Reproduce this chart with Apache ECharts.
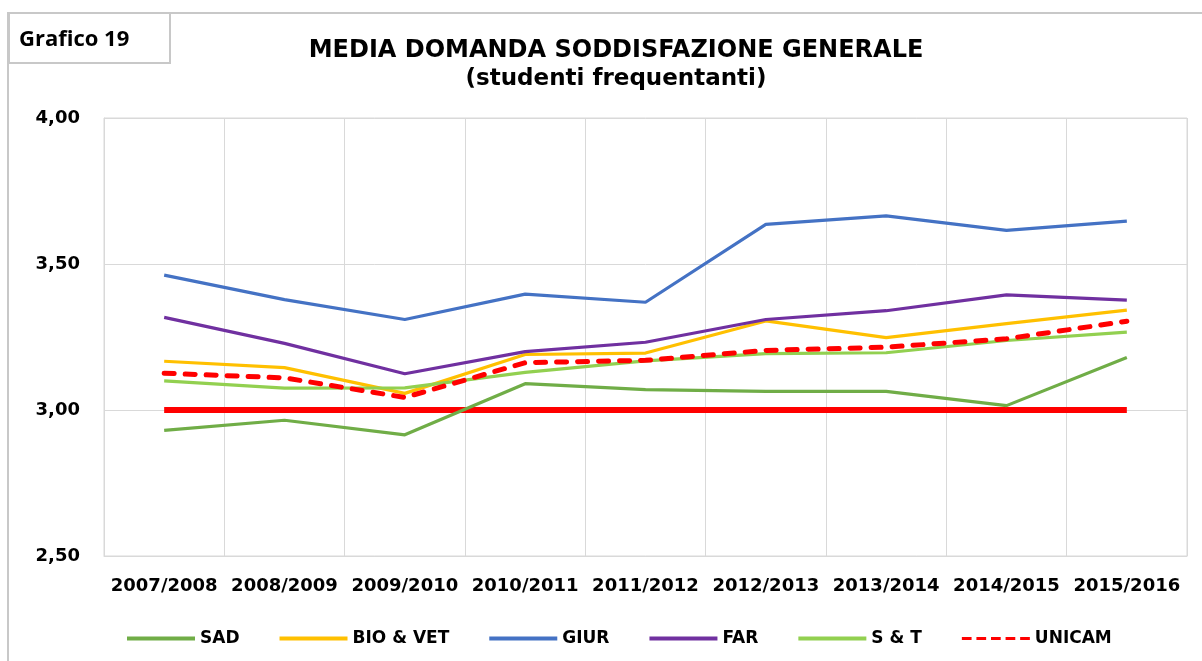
<!DOCTYPE html>
<html>
<head>
<meta charset="utf-8">
<script src="https://cdn.jsdelivr.net/npm/echarts@6/dist/echarts.min.js"></script>
<style>
html,body{margin:0;padding:0;background:#fff;}
#c{width:1202px;height:661px;}
</style>
</head>
<body>
<div id="c"></div>
<script>
const categories = ['2007/2008','2008/2009','2009/2010','2010/2011','2011/2012','2012/2013','2013/2014','2014/2015','2015/2016'];
const SAD    = [2.93, 2.965, 2.915, 3.09, 3.07, 3.064, 3.064, 3.015, 3.18];
const BIOVET = [3.167, 3.145, 3.057, 3.19, 3.195, 3.305, 3.248, 3.296, 3.342];
const GIUR   = [3.462, 3.378, 3.31, 3.397, 3.369, 3.636, 3.665, 3.615, 3.647];
const FAR    = [3.317, 3.228, 3.124, 3.2, 3.232, 3.31, 3.34, 3.394, 3.376];
const ST     = [3.10, 3.075, 3.076, 3.129, 3.168, 3.193, 3.196, 3.238, 3.267];
const UNICAM = [3.126, 3.11, 3.043, 3.162, 3.17, 3.204, 3.215, 3.244, 3.304];
const BASE   = [3, 3, 3, 3, 3, 3, 3, 3, 3];
const yTicks = [2.5, 3.0, 3.5, 4.0];
const legendNames = ['SAD','BIO & VET','GIUR','FAR','S & T','UNICAM'];

const chart = echarts.init(document.getElementById('c'));
const lineS = (name, data, color) => ({
  name, type: 'line', data, symbol: 'none', smooth: false,
  itemStyle: {color},
  lineStyle: {color, width: 3.2}
});
const dashIcon = 'path://M0,0h10v3h-10zM15,0h10v3h-10zM30,0h10v3h-10zM45,0h10v3h-10zM60,0h10v3h-10z';
chart.setOption({
  animation: false,
  title: [
    {text: 'MEDIA DOMANDA SODDISFAZIONE GENERALE', left: 611, top: 34, textAlign: 'center',
     textStyle: {fontFamily: 'DejaVu Sans', fontWeight: 'bold', fontSize: 24, color: '#000'}},
    {text: '(studenti frequentanti)', left: 611, top: 63, textAlign: 'center',
     textStyle: {fontFamily: 'DejaVu Sans', fontWeight: 'bold', fontSize: 23, color: '#000'}}
  ],
  graphic: [
    {type: 'line', shape: {x1: 8, y1: 13, x2: 1202, y2: 13}, style: {stroke: '#c8c8c8', lineWidth: 2}},
    {type: 'line', shape: {x1: 8, y1: 12, x2: 8, y2: 661}, style: {stroke: '#c8c8c8', lineWidth: 2}},
    {type: 'rect', shape: {x: 9, y: 13, width: 161, height: 50}, style: {fill: '#fff', stroke: '#c8c8c8', lineWidth: 2}},
    {type: 'text', left: 19, top: 29, style: {text: 'Grafico 19', fontFamily: 'Open Sans', fontWeight: 'bold', fontSize: 22, fill: '#000'}}
  ],
  legend: {
    left: 122, top: 625, itemWidth: 68, itemHeight: 4, itemGap: 40,
    data: legendNames.map(n => n === 'UNICAM' ? {name: n, icon: dashIcon} : {name: n, icon: 'rect'}),
    textStyle: {fontFamily: 'DejaVu Sans', fontWeight: 'bold', fontSize: 17, color: '#000'}
  },
  grid: {left: 104, right: 15, top: 118, bottom: 105, show: true, borderColor: '#d9d9d9', borderWidth: 1},
  xAxis: {
    type: 'category', data: categories, boundaryGap: true,
    axisLine: {lineStyle: {color: '#d9d9d9'}}, axisTick: {show: false},
    splitLine: {show: true, interval: 0, lineStyle: {color: '#d9d9d9', width: 1}},
    axisLabel: {interval: 0, margin: 21, fontFamily: 'DejaVu Sans', fontWeight: 'bold', fontSize: 18, color: '#000'}
  },
  yAxis: {
    type: 'value', min: yTicks[0], max: yTicks[yTicks.length-1], interval: 0.5,
    axisLine: {show: true, lineStyle: {color: '#d9d9d9'}}, axisTick: {show: false},
    splitLine: {lineStyle: {color: '#d9d9d9', width: 1}},
    axisLabel: {margin: 24, fontFamily: 'DejaVu Sans', fontWeight: 'bold', fontSize: 18, color: '#000',
      formatter: v => v.toFixed(2).replace('.', ',')}
  },
  series: [
    lineS('SAD', SAD, '#70AD47'),
    lineS('BIO & VET', BIOVET, '#FFC000'),
    lineS('GIUR', GIUR, '#4472C4'),
    lineS('FAR', FAR, '#7030A0'),
    lineS('S & T', ST, '#92D050'),
    {name: 'UNICAM', type: 'line', data: UNICAM, symbol: 'none', itemStyle: {color: '#FF0000'},
     lineStyle: {color: '#FF0000', width: 5, type: [10, 11], cap: 'round'}},
    {name: 'base', type: 'line', data: BASE, symbol: 'none', itemStyle: {color: '#FF0000'},
     lineStyle: {color: '#FF0000', width: 6}, z: 1}
  ]
});
</script>
</body>
</html>
